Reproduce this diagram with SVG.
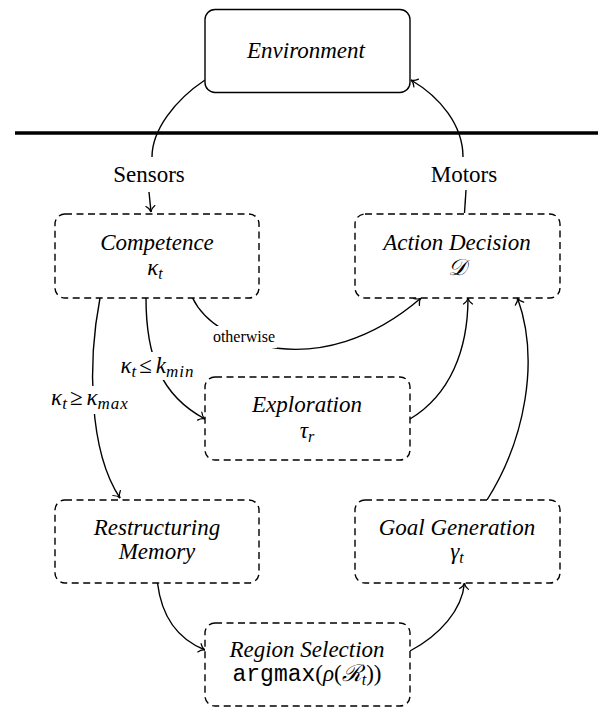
<svg xmlns="http://www.w3.org/2000/svg" width="598" height="708" viewBox="0 0 598 708">
<defs>
<style>
.env{fill:#fff;stroke:#000;stroke-width:1.4}
.box{fill:#fff;stroke:#000;stroke-width:1.4;stroke-dasharray:7 4.5}
.t{font-size:23px;font-style:italic;fill:#000;text-anchor:middle}
.lbl{font-size:23px;fill:#000;text-anchor:middle}
.sm{font-size:16px;fill:#000;text-anchor:middle}
.c{fill:none;stroke:#000;stroke-width:1.4}
.bg{fill:#fff;stroke:none}
</style>
<marker id="arr" viewBox="-8 -6 10 12" markerWidth="10" markerHeight="12" refX="0" refY="0" orient="auto" markerUnits="userSpaceOnUse">
<path d="M-6,-4.5 C-4,-1.5 -1.5,-0.3 0,0 C-1.5,0.3 -4,1.5 -6,4.5" fill="none" stroke="#000" stroke-width="1.2" stroke-linecap="round"/>
</marker>
</defs>

<line x1="15" y1="133" x2="598" y2="133" stroke="#000" stroke-width="3.5"/>

<g id="connectors">
<path class="c" d="M205,80 C175,100 152,130 152,157"/>
<path class="c" d="M463,157 C463,125 440,97 411,80" marker-end="url(#arr)"/>
<path class="c" d="M149,192 L151,212" marker-end="url(#arr)"/>
<path class="c" d="M466,190 L464.5,213"/>
<path class="c" d="M192.6,298 C215,345 320,385 421,298" marker-end="url(#arr)"/>
<path class="c" d="M146,298 C146,355 160,395 205,419" marker-end="url(#arr)"/>
<path class="c" d="M100,298 C88,360 88,450 120,498" marker-end="url(#arr)"/>
<path class="c" d="M410,419 C450,395 468,350 468,298" marker-end="url(#arr)"/>
<path class="c" d="M487,500 C525,440 540,360 517.5,298" marker-end="url(#arr)"/>
<path class="c" d="M157.5,583 C162,620 180,640 205,650" marker-end="url(#arr)"/>
<path class="c" d="M410,651 C440,635 462,610 464.5,583" marker-end="url(#arr)"/>
<g id="labels">
<rect class="bg" x="108" y="160" width="82" height="28"/>
<text class="lbl" x="149" y="182" font-family="Liberation Serif">Sensors</text>
<rect class="bg" x="424" y="160" width="82" height="28"/>
<text class="lbl" x="464" y="182" font-family="Liberation Serif">Motors</text>
<rect class="bg" x="212" y="326" width="65" height="22"/>
<text class="sm" x="244" y="342" font-family="Liberation Serif">otherwise</text>
<rect class="bg" x="108" y="352" width="100" height="28"/>
<text class="t" x="157.5" y="373" font-family="Liberation Serif">κ<tspan font-size="17" dy="4">t</tspan><tspan dy="-4" dx="3" font-style="normal">≤</tspan><tspan dx="4">k</tspan><tspan font-size="17" dy="4" letter-spacing="1">min</tspan></text>
<rect class="bg" x="38" y="386" width="104" height="28"/>
<text class="t" x="90" y="405" font-family="Liberation Serif">κ<tspan font-size="17" dy="4">t</tspan><tspan dy="-4" dx="3" font-style="normal">≥</tspan><tspan dx="4">κ</tspan><tspan font-size="17" dy="4" letter-spacing="1">max</tspan></text>
</g>
</g>

<g id="node-environment">
<rect class="env" x="205" y="9.5" width="205" height="83" rx="10"/>
<text class="t" x="306" y="58" font-family="Liberation Serif">Environment</text>
</g>
<g id="node-competence">
<rect class="box" x="55" y="214" width="204" height="84" rx="10"/>
<text class="t" x="157" y="250" font-family="Liberation Serif">Competence</text>
<text class="t" x="155" y="275" font-family="Liberation Serif">κ<tspan font-size="16" dy="4">t</tspan></text>
</g>
<g id="node-action">
<rect class="box" x="355" y="214" width="205" height="84" rx="10"/>
<text class="t" x="457" y="250" font-family="Liberation Serif">Action Decision</text>
<text class="t" x="457" y="275" font-family="Liberation Serif">𝒟</text>
</g>
<g id="node-exploration">
<rect class="box" x="205" y="377" width="205" height="83" rx="10"/>
<text class="t" x="307" y="412" font-family="Liberation Serif">Exploration</text>
<text class="t" x="307" y="438" font-family="Liberation Serif">τ<tspan font-size="16" dy="4">r</tspan></text>
</g>
<g id="node-restructuring">
<rect class="box" x="55" y="500" width="204" height="83" rx="10"/>
<text class="t" x="157" y="535" font-family="Liberation Serif">Restructuring</text>
<text class="t" x="157" y="559" font-family="Liberation Serif">Memory</text>
</g>
<g id="node-goal">
<rect class="box" x="355" y="500" width="205" height="83" rx="10"/>
<text class="t" x="457" y="535" font-family="Liberation Serif">Goal Generation</text>
<text class="t" x="457" y="559" font-family="Liberation Serif">γ<tspan font-size="16" dy="4">t</tspan></text>
</g>
<g id="node-region">
<rect class="box" x="205" y="623" width="205" height="83" rx="10"/>
<text class="t" x="307" y="657" font-family="Liberation Serif">Region Selection</text>
<text class="t" x="307" y="681" font-family="Liberation Serif"><tspan font-family="Liberation Mono" font-style="normal">argmax</tspan><tspan font-style="normal">(</tspan>ρ<tspan font-style="normal">(</tspan>ℛ<tspan font-size="16" dy="4">t</tspan><tspan dy="-4" font-style="normal">))</tspan></text>
</g>
</svg>
